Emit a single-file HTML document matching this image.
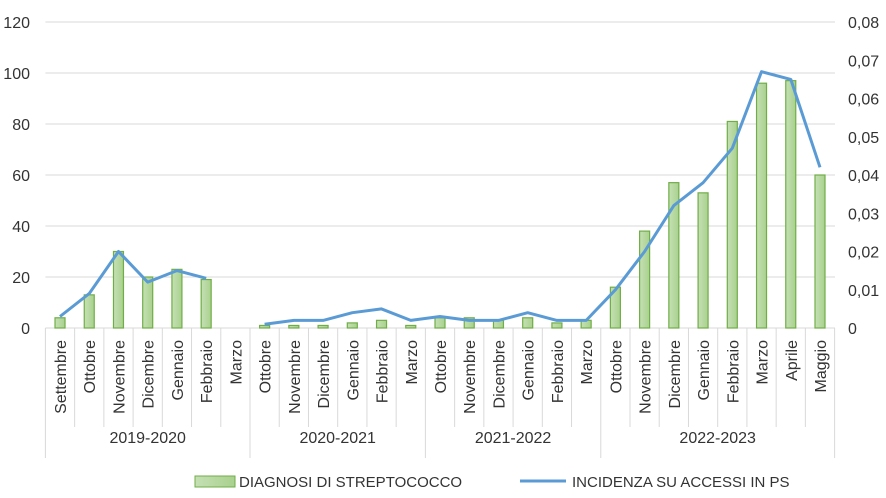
<!DOCTYPE html><html><head><meta charset="utf-8"><style>body{margin:0;background:#fff}svg{display:block}text{font-family:"Liberation Sans",sans-serif;fill:#333}</style></head><body>
<svg id="s" width="886" height="498" xmlns="http://www.w3.org/2000/svg"></svg>
<script>
const s=document.getElementById('s');let h='';
const L=45.4,W=29.23,Y0=328,P=2.55;
const cats=["Settembre","Ottobre","Novembre","Dicembre","Gennaio","Febbraio","Marzo","Ottobre","Novembre","Dicembre","Gennaio","Febbraio","Marzo","Ottobre","Novembre","Dicembre","Gennaio","Febbraio","Marzo","Ottobre","Novembre","Dicembre","Gennaio","Febbraio","Marzo","Aprile","Maggio"];
const bars=[4,13,30,20,23,19,0,1,1,1,2,3,1,4,4,3,4,2,3,16,38,57,53,81,96,97,60];
const ln=[.003,.009,.020,.012,.015,.013,null,.001,.002,.002,.004,.005,.002,.003,.002,.002,.004,.002,.002,.010,.020,.032,.038,.047,.067,.065,.042];
h+='<defs><linearGradient id="g" x1="0" x2="1"><stop offset="0" stop-color="#c5e0b4"/><stop offset="1" stop-color="#a9d18e"/></linearGradient></defs>';
for(let i=1;i<=6;i++){const y=Y0-i*51;h+=`<line x1="${L}" x2="835" y1="${y}" y2="${y}" stroke="#d9d9d9"/>`;}
for(let i=0;i<=6;i++){const y=Y0-i*51;h+=`<text x="30" y="${y+6}" text-anchor="end" font-size="16">${i*20}</text>`;}
for(let k=0;k<=8;k++){const y=Y0-k*38.25;h+=`<text x="848" y="${y+6}" font-size="16">${k==0?'0':'0,0'+k}</text>`;}
h+=`<line x1="${L}" x2="835" y1="${Y0}" y2="${Y0}" stroke="#d9d9d9"/>`;
const grp=[0,7,13,19,27];
for(let i=0;i<=27;i++){const x=L+W*i;const big=grp.includes(i);h+=`<line x1="${x}" x2="${x}" y1="${Y0}" y2="${big?458:427}" stroke="#d9d9d9"/>`;}
bars.forEach((v,i)=>{if(!v)return;const cx=L+W*(i+.5);const hh=v*P;h+=`<rect x="${cx-5}" y="${Y0-hh}" width="10" height="${hh}" fill="url(#g)" stroke="#70ad47" stroke-width="1.2"/>`;});
let d='',pen=false;ln.forEach((v,i)=>{if(v==null){pen=false;return;}const x=L+W*(i+.5),y=Y0-v*3825;d+=(pen?'L':'M')+x.toFixed(1)+' '+y.toFixed(1);pen=true;});
h+=`<path d="${d}" fill="none" stroke="#5b9bd5" stroke-width="3" stroke-linejoin="round"/>`;
cats.forEach((c,i)=>{const cx=L+W*(i+.5);h+=`<text transform="translate(${cx+6},340) rotate(-90)" text-anchor="end" font-size="16">${c}</text>`;});
const gl=["2019-2020","2020-2021","2021-2022","2022-2023"];
gl.forEach((g,k)=>{const cx=L+W*(grp[k]+grp[k+1])/2;h+=`<text x="${cx}" y="${443}" text-anchor="middle" font-size="16">${g}</text>`;});
h+=`<rect x="195" y="476" width="40" height="11" fill="url(#g)" stroke="#70ad47"/><text x="239" y="487" font-size="15">DIAGNOSI DI STREPTOCOCCO</text>`;
h+=`<line x1="520" x2="566" y1="481" y2="481" stroke="#5b9bd5" stroke-width="3"/><text x="572" y="487" font-size="15">INCIDENZA SU ACCESSI  IN PS</text>`;
s.innerHTML=h;
</script></body></html>
